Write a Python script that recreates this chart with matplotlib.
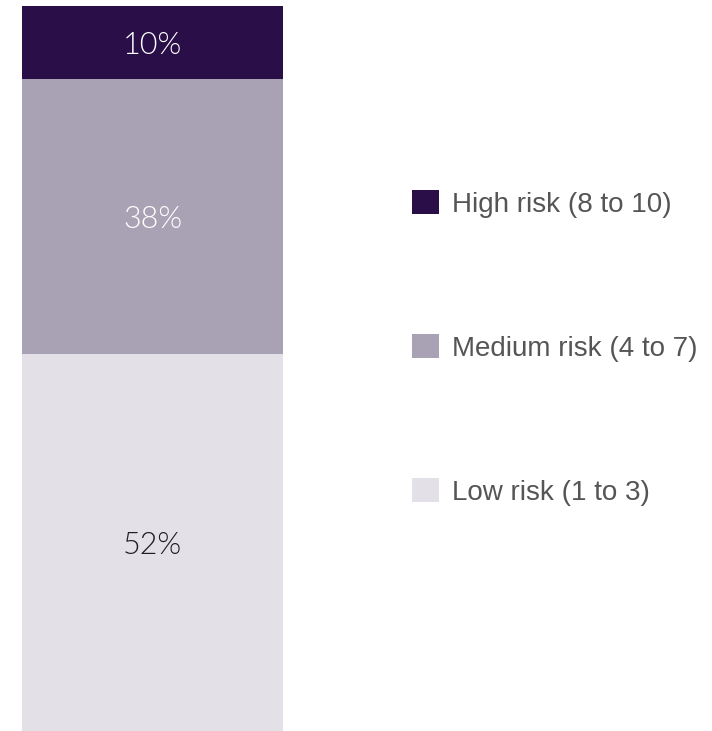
import matplotlib
matplotlib.use("Agg")
import matplotlib.pyplot as plt
from matplotlib.patches import Patch

categories = ["Low risk (1 to 3)", "Medium risk (4 to 7)", "High risk (8 to 10)"]
values = [52, 38, 10]
colors = ["#E3E0E8", "#A9A2B4", "#290E47"]
label_colors = ["#1e1e1e", "white", "white"]

W, H = 712, 731
fig = plt.figure(figsize=(W / 100, H / 100), dpi=100)
ax = fig.add_axes([22 / W, 0, (283 - 22) / W, 725 / H])

bottom = 0
for v, c, lc in zip(values, colors, label_colors):
    ax.bar(0, v, bottom=bottom, width=1.0, color=c, linewidth=0)
    ax.annotate(f"{v}%", xy=(0, bottom + v / 2), xytext=(0, -2.5),
                textcoords="offset points", ha="center", va="center",
                color=lc, fontsize=22, family=["Lato", "DejaVu Sans"], fontweight=300)
    bottom += v

ax.set_xlim(-0.5, 0.5)
ax.set_ylim(0, 100)
ax.axis("off")

handles = [Patch(facecolor=c, edgecolor="none") for c in colors[::-1]]
labels = categories[::-1]
leg = fig.legend(handles, labels, loc="upper left",
                 bbox_to_anchor=(412 / W, 1 - 190 / H),
                 frameon=False, labelspacing=4.19,
                 handlelength=0.97, handleheight=0.97, handletextpad=0.47,
                 borderpad=0, borderaxespad=0,
                 prop={"family": ["Liberation Sans", "DejaVu Sans"], "size": 20})
for t in leg.get_texts():
    t.set_color("#555555")

fig.savefig("out.png", dpi=100)
